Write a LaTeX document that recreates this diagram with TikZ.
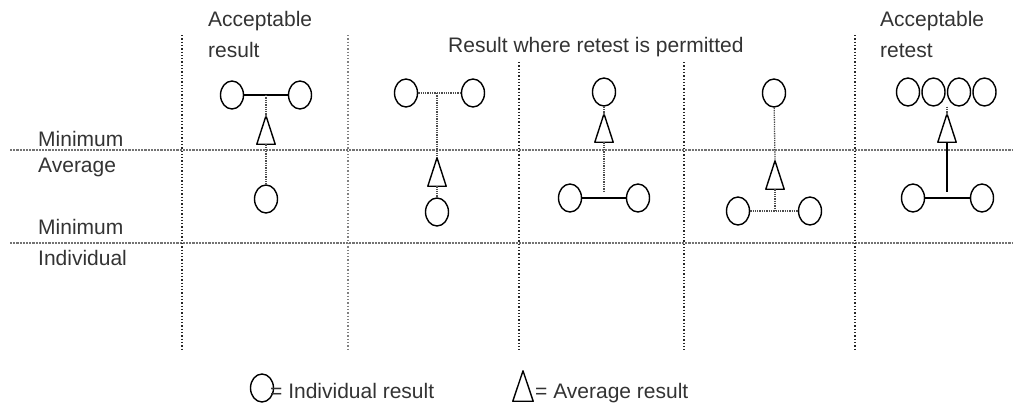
\documentclass[tikz,border=0pt]{standalone}
\usepackage{fontspec}
\setmainfont{Liberation Sans}
\usetikzlibrary{shapes.geometric}
\tikzset{
  res/.style={ellipse,draw=black,line width=1.4pt,minimum width=23pt,minimum height=28pt,inner sep=0pt},
  avgbox/.style={rectangle,inner sep=0pt,minimum width=18pt,minimum height=28pt},
  solidcon/.style={draw=black,line width=1.4pt},
  dotcon/.style={draw=black!70,line width=1.3pt,densely dotted},
  hgrid/.style={draw=black!55,line width=2.2pt,densely dotted},
  vgrid/.style={draw=black!85,line width=1.3pt,dotted},
  lbl/.style={anchor=base west,inner sep=0pt,text=black!80,font=\fontsize{21}{25}\selectfont}
}
\newcommand{\tri}[1]{\draw[black,line width=1.4pt,line join=round] (#1.north) -- (#1.south east) -- (#1.south west) -- cycle;}
\begin{document}
\begin{tikzpicture}[x=1pt,y=-1pt]
\useasboundingbox (0,0) rectangle (1013,405);
% grid
\draw[hgrid] (10,150) -- (1013,150);
\draw[hgrid] (10,243) -- (1013,243);
\draw[vgrid] (182,35) -- (182,350);
\draw[vgrid,draw=black!50] (348,35) -- (348,350);
\draw[vgrid] (519,62) -- (519,350);
\draw[vgrid] (684,62) -- (684,350);
\draw[vgrid] (855,35) -- (855,350);
% labels
\node[lbl] (h1) at (208,26) {Acceptable};
\node[lbl] (h1b) at (208,57) {result};
\node[lbl] (h2) at (448,52) {Result where retest is permitted};
\node[lbl] (h3) at (880,26) {Acceptable};
\node[lbl] (h3b) at (880,57) {retest};
\node[lbl] (l1) at (38,146) {Minimum};
\node[lbl] (l2) at (38,172) {Average};
\node[lbl] (l3) at (38,234) {Minimum};
\node[lbl] (l4) at (38,265) {Individual};
% column 1
\node[res] (c1a) at (232,95) {};
\node[res] (c1b) at (300,95) {};
\node[avgbox] (t1) at (266,130) {}; \tri{t1}
\node[res] (c1c) at (266,199) {};
\draw[solidcon] (c1a) -- (c1b);
\draw[dotcon] (t1.north |- c1a) -- (t1.north);
\draw[dotcon] (t1.south) -- (c1c);
% column 2
\node[res] (c2a) at (406,93) {};
\node[res] (c2b) at (473,93) {};
\node[avgbox] (t2) at (437,172) {}; \tri{t2}
\node[res] (c2c) at (437,212) {};
\draw[dotcon] (c2a) -- (c2b);
\draw[dotcon] (t2.north |- c2a) -- (t2.north);
\draw[dotcon] (t2.south) -- (c2c);
% column 3
\node[res] (c3a) at (604,92) {};
\node[avgbox] (t3) at (604,128) {}; \tri{t3}
\node[res] (c3b) at (570,198) {};
\node[res] (c3c) at (638,198) {};
\coordinate (j3) at (604,191);
\draw[dotcon] (c3a) -- (t3.north);
\draw[solidcon] (c3b) -- (c3c);
\draw[dotcon] (t3.south) -- (j3);
% column 4
\node[res] (c4a) at (774,93) {};
\node[avgbox] (t4) at (775,175) {}; \tri{t4}
\node[res] (c4b) at (738,211) {};
\node[res] (c4c) at (810,211) {};
\draw[dotcon] (c4a) -- (t4.north);
\draw[dotcon] (c4b) -- (c4c);
\draw[dotcon] (t4.south) -- (t4.south |- c4b);
% column 5
\node[res] (c5a) at (908,92) {};
\node[res] (c5b) at (933.5,92) {};
\node[res] (c5c) at (959,92) {};
\node[res] (c5d) at (984.5,92) {};
\node[avgbox] (t5) at (947,128) {}; \tri{t5}
\node[res] (c5e) at (913,198) {};
\node[res] (c5f) at (982,198) {};
\coordinate (j5) at (947,192);
\draw[dotcon] (t5.north |- c5b.south) -- (t5.north);
\draw[solidcon] (c5e) -- (c5f);
\draw[solidcon] (t5.south) -- (j5);
% legend
\node[res] (cL) at (262,388) {};
\node[lbl] (tLi) at (270,398) {= Individual result};
\node[avgbox,minimum height=30pt,minimum width=20pt] (tL) at (523,386) {}; \tri{tL}
\node[lbl] (tLa) at (535,398) {= Average result};
\end{tikzpicture}
\end{document}
